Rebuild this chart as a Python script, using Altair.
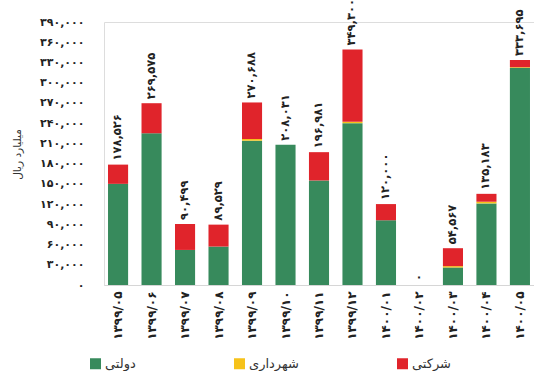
import altair as alt
import pandas as pd

# Monthly loan amounts by borrower type (billion rials)
months = ["۱۳۹۹/۰۵", "۱۳۹۹/۰۶", "۱۳۹۹/۰۷", "۱۳۹۹/۰۸", "۱۳۹۹/۰۹", "۱۳۹۹/۱۰",
          "۱۳۹۹/۱۱", "۱۳۹۹/۱۲", "۱۴۰۰/۰۱", "۱۴۰۰/۰۲", "۱۴۰۰/۰۳", "۱۴۰۰/۰۴", "۱۴۰۰/۰۵"]
series = ["دولتی", "شهرداری", "شرکتی"]
colors = ["#378a5c", "#f6c21a", "#e0242b"]

government = [150000, 225000, 52000, 57000, 214000, 208031, 155000, 240000, 96000, 0, 26000, 121000, 322000]
municipal = [0, 0, 0, 0, 2500, 0, 0, 2000, 0, 0, 2000, 2500, 1000]
corporate = [28526, 44575, 38499, 32529, 54188, 0, 41981, 107300, 24000, 0, 26567, 11683, 10695]
totals = [178526, 269575, 90499, 89529, 270688, 208031, 196981, 349300, 120000, 0, 54567, 135183, 333695]

y_ticks = list(range(0, 390001, 30000))

FA = str.maketrans("0123456789", "۰۱۲۳۴۵۶۷۸۹")
FONT = "DejaVu Sans"

rows = []
for vals, name, k in zip([government, municipal, corporate], series, range(3)):
    for m, v in zip(months, vals):
        rows.append({"month": m, "type": name, "value": v, "k": k})
bars_df = pd.DataFrame(rows)

totals_df = pd.DataFrame({
    "month": months,
    "total": totals,
    "label": [f"{t:,}".translate(FA) for t in totals],
})

# Persian digits for the value axis
expr = "format(datum.value, ',')"
for d in "0123456789":
    expr = f"replace({expr}, regexp('{d}', 'g'), '{d.translate(FA)}')"

x_scale = alt.Scale(paddingInner=0.4, paddingOuter=0.12)
x_axis = alt.Axis(labelAngle=270, labelFont=FONT, labelFontSize=12,
                  labelFontWeight="bold", labelColor="#222",
                  ticks=False, domainColor="#d6d6d6", labelPadding=6)

y_scale = alt.Scale(domain=[0, 390000], nice=False)
y_axis = alt.Axis(values=y_ticks, labelExpr=expr, grid=False,
                  domain=False, ticks=False, labelPadding=20, labelFont=FONT,
                  labelOverlap=False, labelFontSize=11,
                  labelFontWeight="bold", labelColor="#222",
                  titleFont=FONT, titleFontSize=10.5, titleFontWeight="normal",
                  titleColor="#333", titleX=-82, titleY=132)

bars = alt.Chart(bars_df).mark_bar().encode(
    x=alt.X("month:N", sort=months, title=None, scale=x_scale, axis=x_axis),
    y=alt.Y("value:Q", stack="zero", title="میلیارد ریال", scale=y_scale, axis=y_axis),
    color=alt.Color("type:N", sort=series,
                    scale=alt.Scale(domain=series, range=colors),
                    legend=alt.Legend(title=None, orient="none", direction="horizontal",
                                      columns=3, legendX=-15, legendY=335,
                                      symbolType="square", symbolSize=121,
                                      symbolStrokeWidth=0, labelFont=FONT,
                                      labelFontSize=13, labelColor="#333",
                                      columnPadding=97, labelOffset=3)),
    order=alt.Order("k:Q"),
)

labels = alt.Chart(totals_df).mark_text(
    angle=270, align="left", baseline="middle", dx=4,
    font=FONT, fontSize=11.5, fontWeight="bold", color="#222",
).encode(
    x=alt.X("month:N", sort=months, title=None, scale=x_scale, axis=x_axis),
    y=alt.Y("total:Q", title="میلیارد ریال", scale=y_scale, axis=y_axis),
    text="label:N",
)

chart = alt.layer(bars, labels).properties(
    width=430, height=263,
    autosize=alt.AutoSizeParams(type="none"),
    padding={"left": 104, "top": 22, "right": 0, "bottom": 86},
).configure_view(stroke=None).configure(background="white")

chart.save("out.html", embed_options={"renderer": "svg", "actions": False})
